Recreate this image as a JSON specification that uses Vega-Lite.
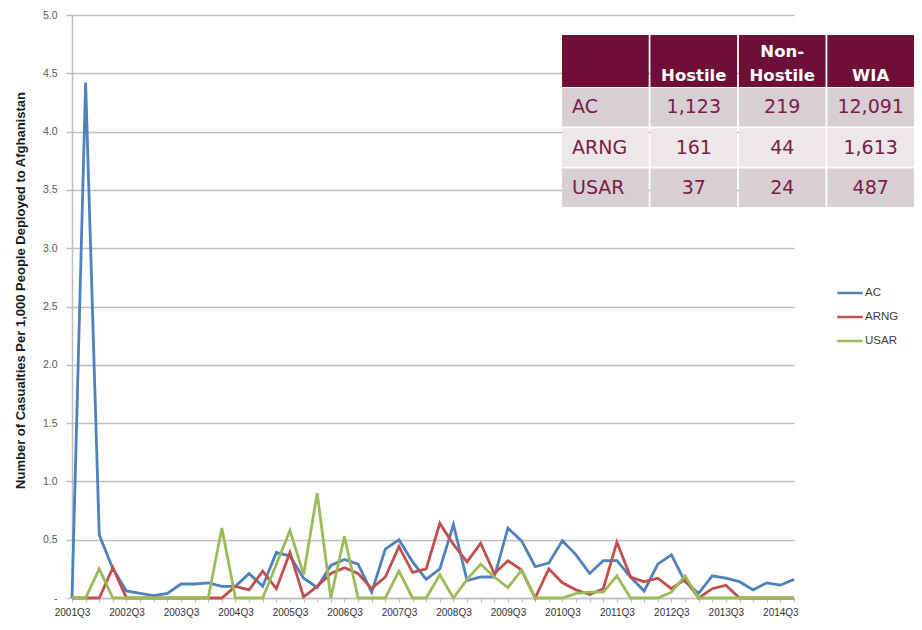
{
  "$schema": "https://vega.github.io/schema/vega-lite/v6.json",
  "width": 722,
  "height": 583,
  "autosize": {"type": "none"},
  "padding": {"left": 72, "top": 15, "right": 128, "bottom": 32},
  "background": "white",
  "config": {"view": {"stroke": null}, "font": "Liberation Sans"},
  "datasets": {
    "series": [
      {"q":"2001Q3","s":"AC","v":0},{"q":"2001Q4","s":"AC","v":4.42},{"q":"2002Q1","s":"AC","v":0.54},{"q":"2002Q2","s":"AC","v":0.25},
      {"q":"2002Q3","s":"AC","v":0.06},{"q":"2002Q4","s":"AC","v":0.04},{"q":"2003Q1","s":"AC","v":0.02},{"q":"2003Q2","s":"AC","v":0.04},
      {"q":"2003Q3","s":"AC","v":0.12},{"q":"2003Q4","s":"AC","v":0.12},{"q":"2004Q1","s":"AC","v":0.13},{"q":"2004Q2","s":"AC","v":0.10},
      {"q":"2004Q3","s":"AC","v":0.10},{"q":"2004Q4","s":"AC","v":0.21},{"q":"2005Q1","s":"AC","v":0.10},{"q":"2005Q2","s":"AC","v":0.39},
      {"q":"2005Q3","s":"AC","v":0.36},{"q":"2005Q4","s":"AC","v":0.17},{"q":"2006Q1","s":"AC","v":0.09},{"q":"2006Q2","s":"AC","v":0.28},
      {"q":"2006Q3","s":"AC","v":0.33},{"q":"2006Q4","s":"AC","v":0.29},{"q":"2007Q1","s":"AC","v":0.05},{"q":"2007Q2","s":"AC","v":0.42},
      {"q":"2007Q3","s":"AC","v":0.50},{"q":"2007Q4","s":"AC","v":0.31},{"q":"2008Q1","s":"AC","v":0.16},{"q":"2008Q2","s":"AC","v":0.25},
      {"q":"2008Q3","s":"AC","v":0.63},{"q":"2008Q4","s":"AC","v":0.15},{"q":"2009Q1","s":"AC","v":0.18},{"q":"2009Q2","s":"AC","v":0.18},
      {"q":"2009Q3","s":"AC","v":0.60},{"q":"2009Q4","s":"AC","v":0.49},{"q":"2010Q1","s":"AC","v":0.27},{"q":"2010Q2","s":"AC","v":0.30},
      {"q":"2010Q3","s":"AC","v":0.49},{"q":"2010Q4","s":"AC","v":0.37},{"q":"2011Q1","s":"AC","v":0.21},{"q":"2011Q2","s":"AC","v":0.32},
      {"q":"2011Q3","s":"AC","v":0.32},{"q":"2011Q4","s":"AC","v":0.18},{"q":"2012Q1","s":"AC","v":0.06},{"q":"2012Q2","s":"AC","v":0.29},
      {"q":"2012Q3","s":"AC","v":0.37},{"q":"2012Q4","s":"AC","v":0.14},{"q":"2013Q1","s":"AC","v":0.04},{"q":"2013Q2","s":"AC","v":0.19},
      {"q":"2013Q3","s":"AC","v":0.17},{"q":"2013Q4","s":"AC","v":0.14},{"q":"2014Q1","s":"AC","v":0.07},{"q":"2014Q2","s":"AC","v":0.13},
      {"q":"2014Q3","s":"AC","v":0.11},{"q":"2014Q4","s":"AC","v":0.16},

      {"q":"2001Q3","s":"ARNG","v":0},{"q":"2001Q4","s":"ARNG","v":0},{"q":"2002Q1","s":"ARNG","v":0},{"q":"2002Q2","s":"ARNG","v":0.26},
      {"q":"2002Q3","s":"ARNG","v":0},{"q":"2002Q4","s":"ARNG","v":0},{"q":"2003Q1","s":"ARNG","v":0},{"q":"2003Q2","s":"ARNG","v":0},
      {"q":"2003Q3","s":"ARNG","v":0},{"q":"2003Q4","s":"ARNG","v":0},{"q":"2004Q1","s":"ARNG","v":0},{"q":"2004Q2","s":"ARNG","v":0},
      {"q":"2004Q3","s":"ARNG","v":0.10},{"q":"2004Q4","s":"ARNG","v":0.07},{"q":"2005Q1","s":"ARNG","v":0.23},{"q":"2005Q2","s":"ARNG","v":0.08},
      {"q":"2005Q3","s":"ARNG","v":0.39},{"q":"2005Q4","s":"ARNG","v":0.01},{"q":"2006Q1","s":"ARNG","v":0.10},{"q":"2006Q2","s":"ARNG","v":0.21},
      {"q":"2006Q3","s":"ARNG","v":0.26},{"q":"2006Q4","s":"ARNG","v":0.21},{"q":"2007Q1","s":"ARNG","v":0.08},{"q":"2007Q2","s":"ARNG","v":0.18},
      {"q":"2007Q3","s":"ARNG","v":0.44},{"q":"2007Q4","s":"ARNG","v":0.22},{"q":"2008Q1","s":"ARNG","v":0.25},{"q":"2008Q2","s":"ARNG","v":0.64},
      {"q":"2008Q3","s":"ARNG","v":0.46},{"q":"2008Q4","s":"ARNG","v":0.31},{"q":"2009Q1","s":"ARNG","v":0.47},{"q":"2009Q2","s":"ARNG","v":0.21},
      {"q":"2009Q3","s":"ARNG","v":0.32},{"q":"2009Q4","s":"ARNG","v":0.24},{"q":"2010Q1","s":"ARNG","v":0},{"q":"2010Q2","s":"ARNG","v":0.25},
      {"q":"2010Q3","s":"ARNG","v":0.13},{"q":"2010Q4","s":"ARNG","v":0.07},{"q":"2011Q1","s":"ARNG","v":0.03},{"q":"2011Q2","s":"ARNG","v":0.08},
      {"q":"2011Q3","s":"ARNG","v":0.48},{"q":"2011Q4","s":"ARNG","v":0.18},{"q":"2012Q1","s":"ARNG","v":0.14},{"q":"2012Q2","s":"ARNG","v":0.17},
      {"q":"2012Q3","s":"ARNG","v":0.08},{"q":"2012Q4","s":"ARNG","v":0.16},{"q":"2013Q1","s":"ARNG","v":0},{"q":"2013Q2","s":"ARNG","v":0.08},
      {"q":"2013Q3","s":"ARNG","v":0.11},{"q":"2013Q4","s":"ARNG","v":0},{"q":"2014Q1","s":"ARNG","v":0},{"q":"2014Q2","s":"ARNG","v":0},
      {"q":"2014Q3","s":"ARNG","v":0},{"q":"2014Q4","s":"ARNG","v":0},

      {"q":"2001Q3","s":"USAR","v":0},{"q":"2001Q4","s":"USAR","v":0},{"q":"2002Q1","s":"USAR","v":0.25},{"q":"2002Q2","s":"USAR","v":0},
      {"q":"2002Q3","s":"USAR","v":0},{"q":"2002Q4","s":"USAR","v":0},{"q":"2003Q1","s":"USAR","v":0},{"q":"2003Q2","s":"USAR","v":0},
      {"q":"2003Q3","s":"USAR","v":0},{"q":"2003Q4","s":"USAR","v":0},{"q":"2004Q1","s":"USAR","v":0},{"q":"2004Q2","s":"USAR","v":0.60},
      {"q":"2004Q3","s":"USAR","v":0},{"q":"2004Q4","s":"USAR","v":0},{"q":"2005Q1","s":"USAR","v":0},{"q":"2005Q2","s":"USAR","v":0.29},
      {"q":"2005Q3","s":"USAR","v":0.58},{"q":"2005Q4","s":"USAR","v":0.20},{"q":"2006Q1","s":"USAR","v":0.90},{"q":"2006Q2","s":"USAR","v":0},
      {"q":"2006Q3","s":"USAR","v":0.53},{"q":"2006Q4","s":"USAR","v":0},{"q":"2007Q1","s":"USAR","v":0},{"q":"2007Q2","s":"USAR","v":0},
      {"q":"2007Q3","s":"USAR","v":0.23},{"q":"2007Q4","s":"USAR","v":0},{"q":"2008Q1","s":"USAR","v":0},{"q":"2008Q2","s":"USAR","v":0.20},
      {"q":"2008Q3","s":"USAR","v":0},{"q":"2008Q4","s":"USAR","v":0.16},{"q":"2009Q1","s":"USAR","v":0.29},{"q":"2009Q2","s":"USAR","v":0.18},
      {"q":"2009Q3","s":"USAR","v":0.09},{"q":"2009Q4","s":"USAR","v":0.24},{"q":"2010Q1","s":"USAR","v":0},{"q":"2010Q2","s":"USAR","v":0},
      {"q":"2010Q3","s":"USAR","v":0},{"q":"2010Q4","s":"USAR","v":0.04},{"q":"2011Q1","s":"USAR","v":0.05},{"q":"2011Q2","s":"USAR","v":0.05},
      {"q":"2011Q3","s":"USAR","v":0.19},{"q":"2011Q4","s":"USAR","v":0},{"q":"2012Q1","s":"USAR","v":0},{"q":"2012Q2","s":"USAR","v":0},
      {"q":"2012Q3","s":"USAR","v":0.05},{"q":"2012Q4","s":"USAR","v":0.19},{"q":"2013Q1","s":"USAR","v":0},{"q":"2013Q2","s":"USAR","v":0},
      {"q":"2013Q3","s":"USAR","v":0},{"q":"2013Q4","s":"USAR","v":0},{"q":"2014Q1","s":"USAR","v":0},{"q":"2014Q2","s":"USAR","v":0},
      {"q":"2014Q3","s":"USAR","v":0},{"q":"2014Q4","s":"USAR","v":0}
    ],
    "hdr": [
      {"r":"H","c":"Label","t":""},
      {"r":"H","c":"Hostile","t":"\nHostile"},
      {"r":"H","c":"Non-Hostile","t":"Non-\nHostile"},
      {"r":"H","c":"WIA","t":"\nWIA"}
    ],
    "cells": [
      {"r":"AC","c":"Label","t":"AC"},{"r":"AC","c":"Hostile","t":"1,123"},{"r":"AC","c":"Non-Hostile","t":"219"},{"r":"AC","c":"WIA","t":"12,091"},
      {"r":"ARNG","c":"Label","t":"ARNG"},{"r":"ARNG","c":"Hostile","t":"161"},{"r":"ARNG","c":"Non-Hostile","t":"44"},{"r":"ARNG","c":"WIA","t":"1,613"},
      {"r":"USAR","c":"Label","t":"USAR"},{"r":"USAR","c":"Hostile","t":"37"},{"r":"USAR","c":"Non-Hostile","t":"24"},{"r":"USAR","c":"WIA","t":"487"}
    ]
  },
  "layer": [
    {
      "data": {"name": "series"},
      "mark": {"type": "line", "strokeWidth": 2.8},
      "encoding": {
        "x": {
          "field": "q", "type": "ordinal",
          "scale": {"type": "point", "padding": 0},
          "axis": {
            "title": null,
            "labelExpr": "indexof(datum.label, 'Q3') > 0 ? datum.label : ''",
            "labelAngle": 0,
            "labelFont": "Liberation Sans",
            "labelFontSize": 10,
            "labelColor": "#333333",
            "labelPadding": 5,
            "labelOverlap": false,
            "tickSize": 4,
            "tickColor": "#bfbfbf",
            "domainColor": "#bfbfbf",
            "domainWidth": 1.5,
            "grid": false
          }
        },
        "y": {
          "field": "v", "type": "quantitative",
          "scale": {"domain": [0, 5], "nice": false},
          "axis": {
            "values": [0, 0.5, 1, 1.5, 2, 2.5, 3, 3.5, 4, 4.5, 5],
            "labelExpr": "datum.value == 0 ? '-' : format(datum.value, '.1f')",
            "title": "Number of Casualties Per 1,000 People Deployed to Afghanistan",
            "titleFont": "Liberation Sans",
            "titleFontWeight": "bold",
            "titleFontSize": 13,
            "titleColor": "#1a1a1a",
            "titleX": -52,
            "titleY": 275,
            "titleAngle": 270,
            "titleAlign": "center",
            "titleBaseline": "middle",
            "labelFont": "Liberation Sans",
            "labelFontSize": 10.5,
            "labelColor": "#595959",
            "labelPadding": 9,
            "tickSize": 6,
            "tickColor": "#bfbfbf",
            "tickWidth": 1.5,
            "grid": true,
            "gridColor": "#bfbfbf",
            "gridWidth": 1.5,
            "domainColor": "#bfbfbf",
            "domainWidth": 1.5
          }
        },
        "color": {
          "field": "s", "type": "nominal",
          "scale": {"domain": ["AC", "ARNG", "USAR"], "range": ["#4F81BD", "#C0504D", "#9BBB59"]},
          "legend": {
            "orient": "none",
            "legendX": 764,
            "legendY": 264,
            "title": null,
            "symbolType": "stroke",
            "symbolStrokeWidth": 2.5,
            "symbolSize": 650,
            "labelFont": "Liberation Sans",
            "labelFontSize": 11.5,
            "labelColor": "#404040",
            "labelOffset": 1,
            "rowPadding": 4
          }
        }
      }
    },
    {
      "layer": [
        {
          "data": {"name": "hdr"},
          "layer": [
            {
              "mark": {"type": "rect", "color": "#6d0f38"},
              "encoding": {
                "x": {"field": "c", "type": "nominal", "scale": {"domain": ["Label", "Hostile", "Non-Hostile", "WIA"], "range": [490, 842], "paddingInner": 0.02, "paddingOuter": 0}, "axis": null},
                "y": {"field": "r", "type": "nominal", "scale": {"domain": ["H"], "range": [20, 72], "paddingInner": 0, "paddingOuter": 0}, "axis": null}
              }
            },
            {
              "mark": {"type": "text", "color": "white", "font": "DejaVu Sans", "fontWeight": "bold", "fontSize": 16.5, "baseline": "top", "lineBreak": "\n", "lineHeight": 24, "dy": -17},
              "encoding": {
                "x": {"field": "c", "type": "nominal", "axis": null},
                "y": {"field": "r", "type": "nominal", "axis": null},
                "text": {"field": "t"}
              }
            }
          ]
        },
        {
          "data": {"name": "cells"},
          "layer": [
            {
              "mark": {"type": "rect"},
              "encoding": {
                "x": {"field": "c", "type": "nominal", "axis": null},
                "y": {"field": "r", "type": "nominal", "scale": {"domain": ["AC", "ARNG", "USAR"], "range": [73, 192], "paddingInner": 0.04, "paddingOuter": 0}, "axis": null},
                "fill": {"field": "r", "type": "nominal", "scale": {"domain": ["AC", "ARNG", "USAR"], "range": ["#d7cfd3", "#ece7e9", "#d7cfd3"]}, "legend": null}
              }
            },
            {
              "transform": [{"filter": "datum.c == 'Label'"}],
              "mark": {"type": "text", "align": "left", "baseline": "middle", "dx": 10, "color": "#7b1c46", "font": "DejaVu Sans", "fontSize": 19},
              "encoding": {
                "x": {"field": "c", "type": "nominal", "bandPosition": 0, "axis": null},
                "y": {"field": "r", "type": "nominal", "axis": null},
                "text": {"field": "t"}
              }
            },
            {
              "transform": [{"filter": "datum.c != 'Label'"}],
              "mark": {"type": "text", "align": "center", "baseline": "middle", "color": "#7b1c46", "font": "DejaVu Sans", "fontSize": 19},
              "encoding": {
                "x": {"field": "c", "type": "nominal", "axis": null},
                "y": {"field": "r", "type": "nominal", "axis": null},
                "text": {"field": "t"}
              }
            }
          ]
        }
      ],
      "resolve": {"scale": {"y": "independent"}}
    }
  ],
  "resolve": {"scale": {"x": "independent", "y": "independent", "color": "independent"}}
}
